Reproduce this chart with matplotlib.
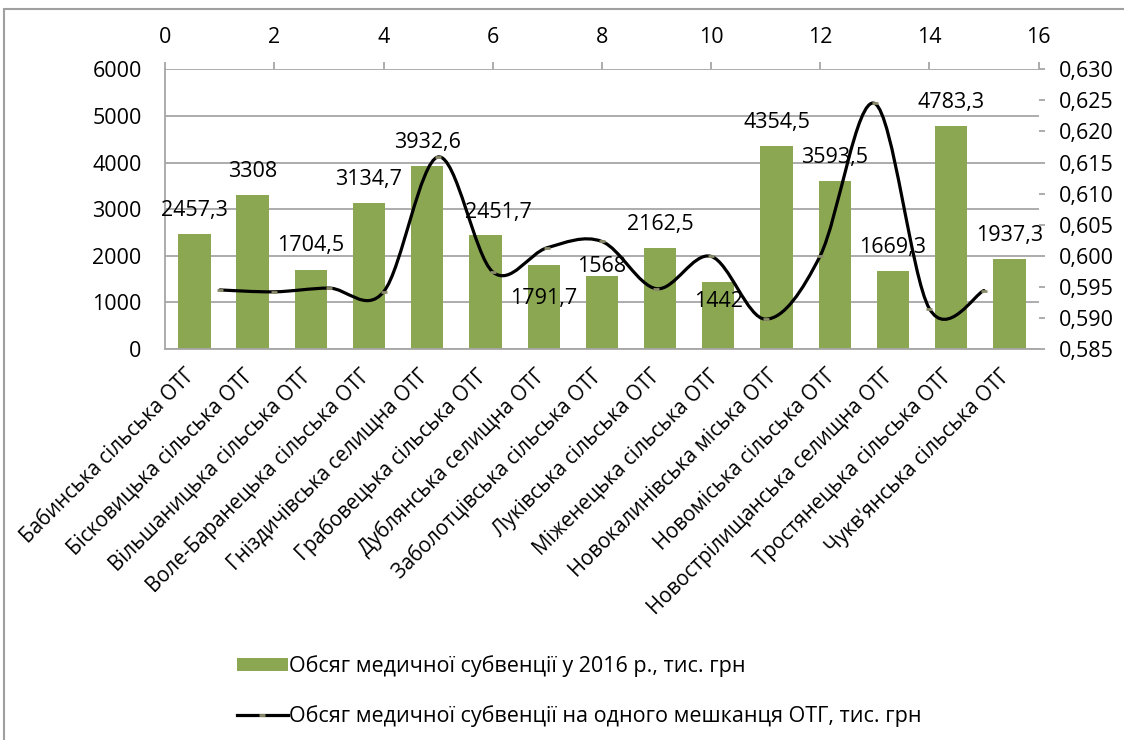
import matplotlib
matplotlib.use("Agg")
import matplotlib.pyplot as plt
from matplotlib.patches import Patch, PathPatch, Rectangle
from matplotlib.lines import Line2D
from matplotlib.path import Path
from matplotlib.ticker import FuncFormatter, MultipleLocator
import matplotlib.transforms as mtransforms

# ---------------- data ----------------
categories = [
    "Бабинська сільська ОТГ", "Бісковицька сільська ОТГ", "Вільшаницька сільська ОТГ",
    "Воле-Баранецька сільська ОТГ", "Гніздичівська селищна ОТГ", "Грабовецька сільська ОТГ",
    "Дублянська селищна ОТГ", "Заболотцівська сільська ОТГ", "Луківська сільська ОТГ",
    "Міженецька сільська ОТГ", "Новокалинівська міська ОТГ", "Новоміська сільська ОТГ",
    "Новострілищанська селищна ОТГ", "Тростянецька сільська ОТГ", "Чукв'янська сільська ОТГ",
]
subvention_total = [2457.3, 3308, 1704.5, 3134.7, 3932.6, 2451.7, 1791.7, 1568,
                    2162.5, 1442, 4354.5, 3593.5, 1669.3, 4783.3, 1937.3]
line_x = [1, 2, 3, 4, 5, 6, 7, 8, 9, 10, 11, 12, 13, 14, 15]
subvention_per_capita = [0.5945, 0.5942, 0.5948, 0.5942, 0.6159, 0.5974, 0.6013, 0.6023,
                         0.5947, 0.5999, 0.5898, 0.6000, 0.6245, 0.5915, 0.5944]
legend_labels = ["Обсяг медичної субвенції у 2016 р., тис. грн",
                 "Обсяг медичної субвенції на одного мешканця ОТГ, тис. грн"]

# --------------- styling ---------------
plt.rcParams['font.family'] = ['Open Sans', 'DejaVu Sans']
FS = 15.5
FS_CAT = 14.8
BAR_COLOR = '#8BA752'
GRID = '#a6a6a6'
W, H = 1124, 740

fig = plt.figure(figsize=(W / 100, H / 100), dpi=100)
rect = [165.3 / W, 1 - 349 / H, (1038.5 - 165.3) / W, (349 - 69.3) / H]
ax = fig.add_axes(rect)
ax2 = fig.add_axes(rect, frameon=False)

# bars on primary axes
xs = list(range(len(categories)))
ax.bar(xs, subvention_total, width=0.555, color=BAR_COLOR, zorder=2)
ax.set_xlim(-0.5, len(categories) - 0.5)
ax.set_ylim(0, 6000)
ax.yaxis.set_major_locator(MultipleLocator(1000))
ax.grid(axis='y', color=GRID, lw=1.3, zorder=0)
ax.set_axisbelow(True)
for s in ['top', 'right']:
    ax.spines[s].set_visible(False)
for s in ['left', 'bottom']:
    ax.spines[s].set_color(GRID)
    ax.spines[s].set_linewidth(1.3)
ax.tick_params(axis='y', length=0, pad=17, labelsize=FS)
ax.tick_params(axis='x', length=0, pad=17, labelsize=FS_CAT)
ax.set_xticks(xs)
ax.set_xticklabels(categories, rotation=45, ha='right', va='center', rotation_mode='anchor')
off = mtransforms.ScaledTranslation(-2 / 100, 0, fig.dpi_scale_trans)
for lab in ax.get_xticklabels():
    lab.set_transform(lab.get_transform() + off)

# data labels
label_offsets = [(0, 17), (0, 17), (0, 17), (0, 17), (0, 17), (9.4, 16), (0, -24),
                 (0, 7), (0, 17), (0, -14), (0, 17), (0, 17), (0, 17), (0, 17), (0, 17)]
for x, v, (dx, dy) in zip(xs, subvention_total, label_offsets):
    ax.annotate(f"{v:g}".replace('.', ','), xy=(x, v), xytext=(dx, dy),
                textcoords='offset points', ha='center', va='center', fontsize=FS, zorder=5)

# secondary axes: line
ax2.set_xlim(0, 16)
ax2.set_ylim(0.585, 0.630)
ax2.xaxis.set_major_locator(MultipleLocator(2))
ax2.yaxis.set_major_locator(MultipleLocator(0.005))
ax2.xaxis.tick_top()
ax2.yaxis.tick_right()
ax2.yaxis.set_major_formatter(FuncFormatter(lambda v, p: f"{v:.3f}".replace('.', ',')))
ax2.tick_params(axis='x', direction='out', length=5, width=1.3, color=GRID, pad=10, labelsize=FS)
ax2.tick_params(axis='y', direction='out', length=4.3, width=1.3, color=GRID, pad=10.5, labelsize=FS)
ax2.spines['right'].set_visible(True)
ax2.spines['right'].set_color(GRID)
ax2.spines['right'].set_linewidth(1.3)

# smoothed line (Catmull-Rom as cubic Bezier, like Excel's smoothed line)
pts = list(zip(line_x, subvention_per_capita))
verts = [pts[0]]
codes = [Path.MOVETO]
n = len(pts)
for i in range(n - 1):
    p0 = pts[i - 1] if i > 0 else pts[i]
    p1 = pts[i]
    p2 = pts[i + 1]
    p3 = pts[i + 2] if i + 2 < n else pts[i + 1]
    c1 = (p1[0] + (p2[0] - p0[0]) / 6, p1[1] + (p2[1] - p0[1]) / 6)
    c2 = (p2[0] - (p3[0] - p1[0]) / 6, p2[1] - (p3[1] - p1[1]) / 6)
    verts += [c1, c2, p2]
    codes += [Path.CURVE4] * 3
ax2.add_patch(PathPatch(Path(verts, codes), fill=False, edgecolor='black', lw=2.3,
                        capstyle='round', zorder=4))
ax2.plot(line_x, subvention_per_capita, linestyle='none', marker='_', markersize=5,
         markeredgewidth=2, markeredgecolor='#8c8c6a', zorder=5)

# legend
handles = [Patch(facecolor=BAR_COLOR, edgecolor='none'),
           Line2D([], [], color='black', lw=2.3, marker='_', markersize=5,
                  markeredgewidth=2, markeredgecolor='#8c8c6a')]
fig.legend(handles, legend_labels, loc='upper left',
           bbox_to_anchor=(237 / W, 1 - 655 / H), frameon=False, fontsize=FS,
           handlelength=2.35, handleheight=0.52, handletextpad=0.08, labelspacing=1.3,
           borderpad=0, borderaxespad=0)

# outer chart border
fig.add_artist(Rectangle((4 / W, -0.1), 1.2, 1 - 9 / H + 0.1, transform=fig.transFigure,
                         fill=False, edgecolor='#a0a0a0', lw=1.5))

fig.savefig('out.png', dpi=100)
